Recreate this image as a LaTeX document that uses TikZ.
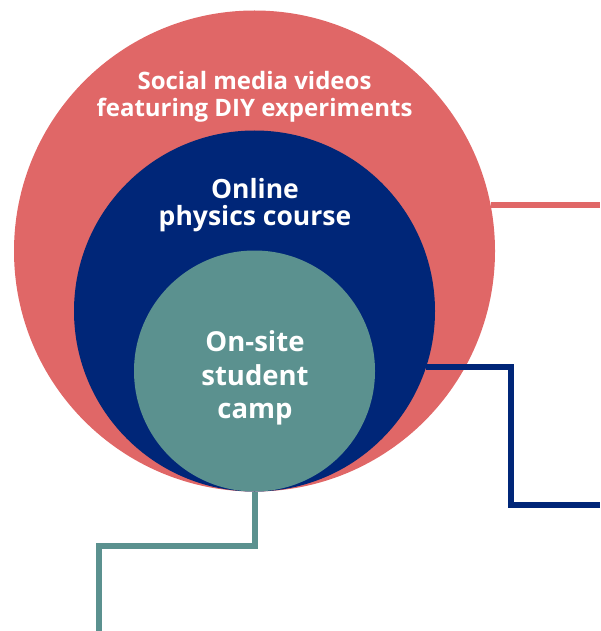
\documentclass[tikz,border=0pt]{standalone}
\usepackage{fontspec}
\setmainfont{Open Sans}
\usetikzlibrary{positioning}
\usetikzlibrary{calc}

\definecolor{socialred}{RGB}{224,103,103}
\definecolor{coursenavy}{RGB}{0,38,120}
\definecolor{campteal}{RGB}{91,145,143}

\begin{document}
\begin{tikzpicture}[x=1pt,y=-1pt]
			\tikzset{ring/.style = {shape=circle, inner sep=0pt, outer sep=0pt, draw=none},
				caption/.style = {text=white, align=center, font=\bfseries},
				link/.style = {line width=6pt}}
			\useasboundingbox (0,0) rectangle (600,631);
			% nested circles, all touching at the bottom
			\node[ring, fill=socialred, minimum size=481pt] (SOCIAL) at (254.5,251) {};
			\node[ring, fill=coursenavy, minimum size=361pt] (COURSE) at (254.5,311) {};
			\node[ring, fill=campteal, minimum size=241pt] (CAMP) at (254.5,371) {};
			
			\node[caption, font=\bfseries\fontsize{24}{27.3}\selectfont] (SOCIALTXT) at (254.5,96.5)
			{Social media videos\\featuring DIY experiments};
			\node[caption, font=\bfseries\fontsize{26.5}{27}\selectfont] (COURSETXT) at (255,205)
			{Online\\physics course};
			\node[caption, font=\bfseries\fontsize{27.5}{33.3}\selectfont] (CAMPTXT) at (255,378)
			{On-site\\student\\camp};
			
			% free ends of the connectors
			\coordinate (SOCIALEND) at (600,204);
			\coordinate (COURSETURN) at (511,504.5);
			\coordinate (COURSEEND) at (600,504.5);
			\coordinate (CAMPTURN) at (98.8,546);
			\coordinate (CAMPEND) at (98.8,631);
			
			\draw[link, socialred] (SOCIAL.11.3) -- (SOCIAL.11.3 -| SOCIALEND);
			\draw[link, coursenavy] (COURSE.-18.4) -| (COURSETURN) -- (COURSEEND);
			\draw[link, campteal] (CAMP.south) |- (CAMPTURN) -- (CAMPEND);
			
			\end{tikzpicture}
\end{document}
